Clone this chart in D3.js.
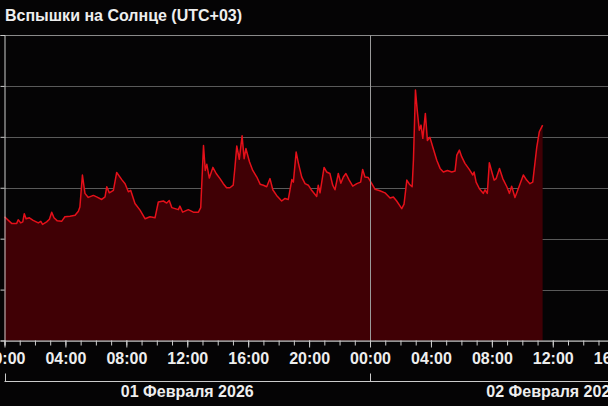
<!DOCTYPE html>
<html>
<head>
<meta charset="utf-8">
<script src="https://cdn.jsdelivr.net/npm/d3@7"></script>
<style>
  html, body { margin: 0; padding: 0; background: #050405; }
  svg { display: block; }
</style>
</head>
<body>
<div id="chart"></div>
<script>
// minutes after 01 Feb 2026 00:00 (UTC+03)
const minutes = [
  0, 28, 48, 54, 64, 72, 78, 85, 98, 113, 133, 143, 150, 166, 177, 186, 195, 208, 225, 238,
  258, 278, 291, 297, 307, 317, 330, 350, 363, 383, 396, 403, 413, 429, 442, 462, 475, 488, 497, 514,
  534, 554, 573, 593, 606, 626, 639, 649, 659, 685, 691, 702, 724, 744, 764, 773, 784, 791, 797, 807,
  821, 834, 849, 862, 875, 888, 901, 908, 915, 925, 936, 944, 951, 965, 978, 994, 1007, 1020, 1033, 1046,
  1057, 1072, 1092, 1105, 1118, 1132, 1138, 1149, 1158, 1171, 1184, 1197, 1210, 1230, 1236, 1243, 1259, 1269, 1282, 1293,
  1302, 1315, 1325, 1335, 1345, 1358, 1372, 1388, 1403, 1411, 1420, 1433, 1447, 1460, 1479, 1499, 1519, 1532, 1545, 1565,
  1574, 1585, 1595, 1606, 1611, 1619, 1626, 1634, 1641, 1648, 1658, 1666, 1676, 1689, 1703, 1716, 1729, 1745, 1762, 1775,
  1782, 1792, 1801, 1814, 1831, 1845, 1850, 1858, 1871, 1886, 1893, 1902, 1910, 1920, 1929, 1937, 1950, 1963, 1979, 1989,
  1998, 2011, 2024, 2044, 2057, 2070, 2081, 2097, 2107, 2120
];
// flare activity level (grid units)
const activity = [
  2.43, 2.30, 2.30, 2.37, 2.31, 2.33, 2.49, 2.39, 2.41, 2.36, 2.31, 2.34, 2.28, 2.33, 2.38, 2.52, 2.41, 2.35, 2.34, 2.43,
  2.44, 2.46, 2.54, 2.62, 3.25, 2.89, 2.81, 2.85, 2.82, 2.77, 2.82, 3.02, 2.90, 2.95, 3.30, 3.16, 3.08, 2.92, 2.95, 2.69,
  2.56, 2.39, 2.43, 2.41, 2.72, 2.74, 2.70, 2.75, 2.61, 2.57, 2.64, 2.52, 2.57, 2.52, 2.52, 2.61, 3.83, 3.34, 3.46, 3.19,
  3.40, 3.28, 3.18, 3.08, 3.00, 3.00, 3.05, 3.41, 3.82, 3.56, 4.02, 3.57, 3.77, 3.51, 3.34, 3.21, 3.07, 3.05, 3.02, 3.18,
  2.96, 2.85, 2.74, 2.79, 2.77, 3.16, 3.11, 3.70, 3.48, 3.21, 3.08, 3.05, 2.95, 2.83, 3.05, 2.90, 3.40, 3.31, 3.28, 3.05,
  2.96, 3.28, 3.09, 3.21, 3.28, 3.15, 3.03, 3.08, 3.11, 3.36, 3.21, 3.20, 3.08, 2.97, 2.94, 2.90, 2.80, 2.82, 2.74, 2.59,
  2.68, 3.15, 3.07, 3.02, 3.54, 4.92, 4.52, 4.13, 4.23, 3.97, 4.46, 3.93, 3.99, 3.77, 3.54, 3.38, 3.31, 3.34, 3.31, 3.33,
  3.64, 3.74, 3.61, 3.48, 3.36, 3.25, 3.31, 3.11, 2.98, 2.89, 2.96, 2.89, 3.49, 3.31, 3.15, 3.18, 3.38, 3.18, 3.02, 2.89,
  3.03, 2.81, 2.98, 3.25, 3.15, 3.08, 3.11, 3.80, 4.10, 4.23
];
const gridLevels = [0, 1, 2, 3, 4, 5, 6];
const dayLabels = ['01 Февраля 2026', '02 Февраля 2026'];
const titleText = 'Вспышки на Солнце (UTC+03)';

const W = 608, H = 406;
const plotTop = 35, plotBottom = 340.5, plotLeft = 4.5;
const pxPerHour = 15.23;
const font = '"Liberation Sans", Arial, sans-serif';

const start = new Date(2026, 1, 1, 0, 0);
const addMin = (m) => new Date(start.getTime() + m * 60000);
const data = minutes.map((m, i) => ({ t: addMin(m), v: activity[i] }));

const x = d3.scaleTime()
  .domain([start, addMin(40 * 60)])
  .range([plotLeft, plotLeft + 40 * pxPerHour]);
const y = d3.scaleLinear().domain([0, 6]).range([plotBottom, plotTop]);

const svg = d3.select('#chart').append('svg')
  .attr('width', W).attr('height', H)
  .style('background', '#050405');

// title
svg.append('text')
  .attr('x', 5).attr('y', 21)
  .attr('fill', '#eeeeee')
  .style('font-family', font).style('font-weight', 'bold').style('font-size', '16px')
  .text(titleText);

// horizontal grid
svg.append('g')
  .selectAll('line')
  .data(gridLevels)
  .enter().append('line')
  .attr('x1', plotLeft).attr('x2', W)
  .attr('y1', d => Math.round(y(d)) + 0.5).attr('y2', d => Math.round(y(d)) + 0.5)
  .attr('stroke', d => d === 6 ? '#8a8a8a' : '#5a5a5a')
  .attr('stroke-width', 1);

// area + line
const area = d3.area().x(d => x(d.t)).y0(y(0)).y1(d => y(d.v));
const line = d3.line().x(d => x(d.t)).y(d => y(d.v));

svg.append('path').datum(data)
  .attr('d', area)
  .attr('fill', '#400005');
svg.append('path').datum(data)
  .attr('d', line)
  .attr('fill', 'none')
  .attr('stroke', '#e5101a')
  .attr('stroke-width', 1.5)
  .attr('stroke-linejoin', 'round');

// day boundary line
const dayBreak = addMin(24 * 60);
svg.append('line')
  .attr('x1', Math.round(x(dayBreak)) + 0.5).attr('x2', Math.round(x(dayBreak)) + 0.5)
  .attr('y1', plotTop).attr('y2', plotBottom)
  .attr('stroke', '#9a9a9a').attr('stroke-width', 1);

// y axis (no labels)
const yAxis = svg.append('g')
  .attr('transform', `translate(${plotLeft},0)`)
  .call(d3.axisLeft(y).tickValues(gridLevels).tickSize(4).tickFormat(''));
yAxis.selectAll('line,path').attr('stroke', '#cccccc');

// x axis: minor hourly ticks
const xMinor = svg.append('g')
  .attr('transform', `translate(0,${plotBottom})`)
  .call(d3.axisBottom(x).ticks(d3.timeHour.every(1)).tickSize(5).tickFormat(''));
xMinor.select('.domain').attr('stroke', '#cccccc');
xMinor.selectAll('.tick line').attr('stroke', '#cccccc');

// x axis: major 4 hour ticks with labels
const xMajor = svg.append('g')
  .attr('transform', `translate(0,${plotBottom})`)
  .call(d3.axisBottom(x).ticks(d3.timeHour.every(4)).tickSize(7).tickPadding(5)
    .tickFormat(d3.timeFormat('%H:%M')));
xMajor.select('.domain').remove();
xMajor.selectAll('.tick line').attr('stroke', '#cccccc');
xMajor.selectAll('.tick text')
  .attr('fill', '#eeeeee')
  .style('font-family', font).style('font-weight', 'bold').style('font-size', '16px');

// date bracket
const bracketY = 381.5;
const days = [start, dayBreak];
const g = svg.append('g');
g.append('line')
  .attr('x1', plotLeft).attr('x2', W)
  .attr('y1', bracketY).attr('y2', bracketY)
  .attr('stroke', '#cccccc');
g.selectAll('.daytick')
  .data(days)
  .enter().append('line')
  .attr('class', 'daytick')
  .attr('x1', d => Math.round(x(d)) + 0.5).attr('x2', d => Math.round(x(d)) + 0.5)
  .attr('y1', bracketY - 8).attr('y2', bracketY)
  .attr('stroke', '#cccccc');
g.selectAll('.daylabel')
  .data(days)
  .enter().append('text')
  .attr('class', 'daylabel')
  .attr('x', d => x(d3.timeHour.offset(d, 12)))
  .attr('y', 397)
  .attr('text-anchor', 'middle')
  .attr('fill', '#eeeeee')
  .style('font-family', font).style('font-weight', 'bold').style('font-size', '16px')
  .text((d, i) => dayLabels[i]);
</script>
</body>
</html>
